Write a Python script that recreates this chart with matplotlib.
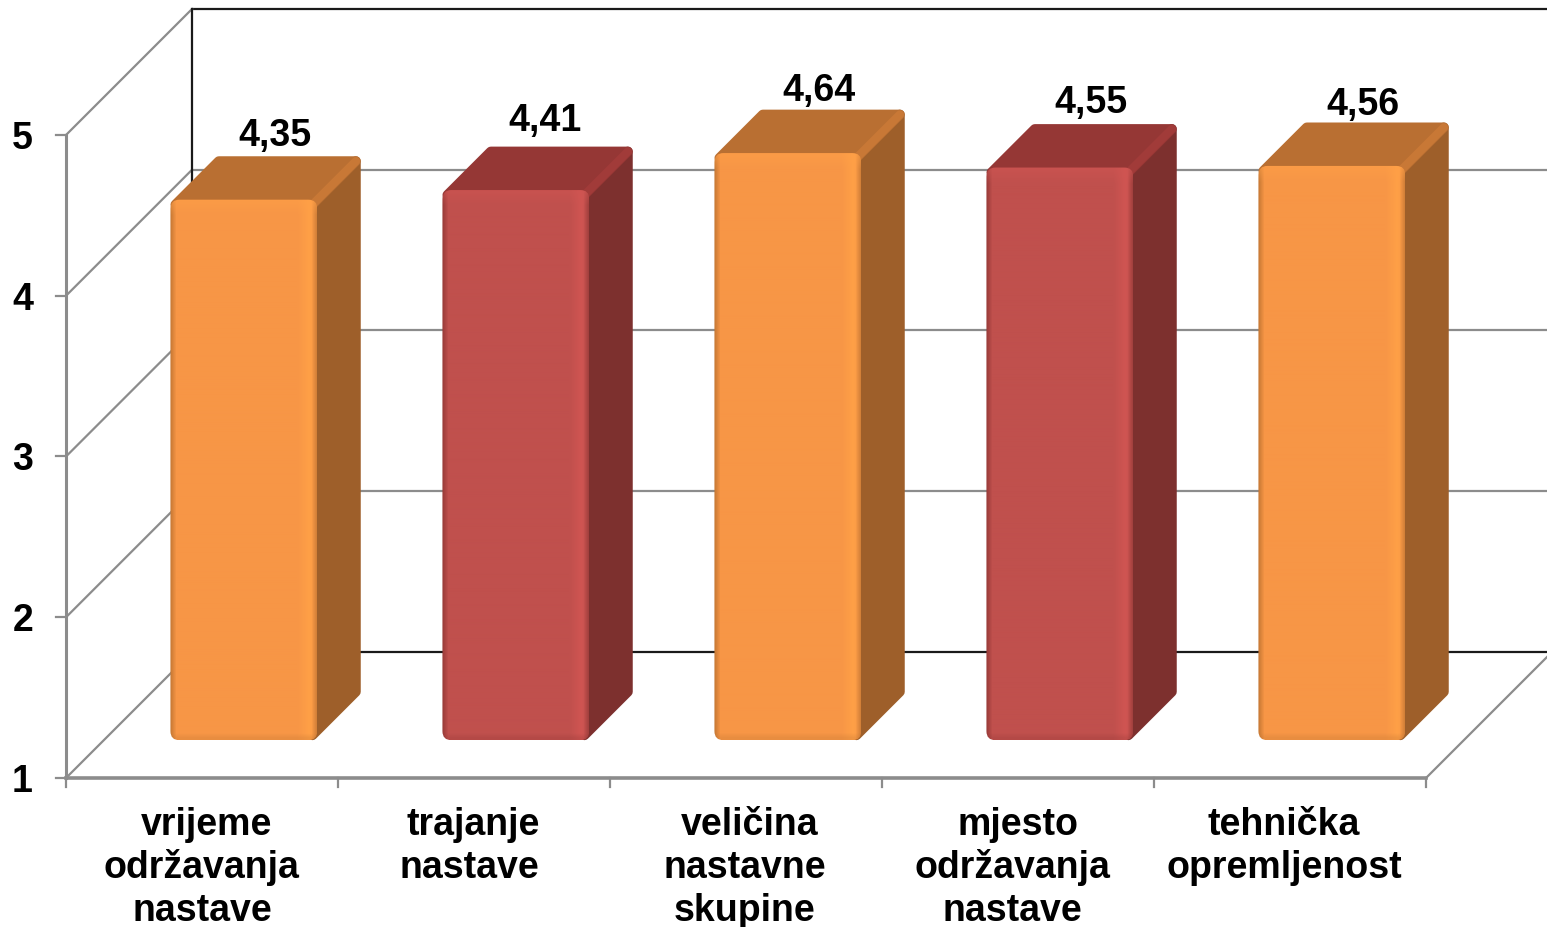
import numpy as np
import matplotlib
matplotlib.use('Agg')
import matplotlib.pyplot as plt
from matplotlib.colors import to_rgb, to_hex
from matplotlib.patches import FancyBboxPatch, Polygon

plt.rcParams['font.family'] = ['Liberation Sans', 'DejaVu Sans']

categories = [['vrijeme', 'održavanja', 'nastave'], ['trajanje', 'nastave'], ['veličina', 'nastavne', 'skupine'],
              ['mjesto', 'održavanja', 'nastave'], ['tehnička', 'opremljenost']]
values = [4.35, 4.41, 4.64, 4.55, 4.56]
value_labels = ['4,35', '4,41', '4,64', '4,55', '4,56']
y_ticks = [1, 2, 3, 4, 5]

# colours per bar: face, edge highlight, dark edge, top, side
ORANGE = ('#F79646', '#FFA047', '#B9702F', '#B96F32', '#9E5F2A')
RED = ('#C0504D', '#D05552', '#8E3533', '#953735', '#7D302E')
bar_colors = [ORANGE, RED, ORANGE, RED, ORANGE]

GRAY = '#8C8C8C'
DARK = '#1A1A1A'
FS = 27

# pixel size of one category / one value unit and of the full chart depth
PX_X = 272.0
PX_Y = 160.75
DEPTH_PX = 126.0

# small hand offsets in pixels, the original labels are not quite centred
label_dx = [[5, -1, 0], [-1, -5], [4, -1, -1], [0, -6, -6], [-6, -6]]
value_dx = [-8, -10, -8, -8, -8]
value_dy = [12, 18, 11, 13, 9]

fig = plt.figure(figsize=(15.47, 9.27), dpi=100)
ax = fig.add_axes([0, 0, 1, 1])
ax.axis('off')


def proj(x, v, d):
    # oblique projection, d = 0 front of the chart, d = 1 back wall
    return x + d * DEPTH_PX / PX_X, v + d * DEPTH_PX / PX_Y


n = len(categories)
xr = n + 1  # back wall runs off the right side of the picture

# back wall
for t in y_ticks:
    col = DARK if t in (1, 5) else GRAY
    ax.plot(*zip(proj(0, t, 1), proj(xr, t, 1)), color=col, lw=1.6, zorder=1, solid_capstyle='butt')
    ax.plot(*zip(proj(0, t, 0), proj(0, t, 1)), color=GRAY, lw=1.6, zorder=1)
ax.plot(*zip(proj(0, 1, 1), proj(0, 5, 1)), color=DARK, lw=1.6, zorder=1)

# front axes
ax.plot([0, 0], [1, 5], color=GRAY, lw=2.2, zorder=1)
ax.plot([0, n], [1, 1], color=GRAY, lw=2.6, zorder=1)
for t in y_ticks:
    ax.plot([-10 / PX_X, 0], [t, t], color=GRAY, lw=1.6, zorder=1)
    ax.text(-33 / PX_X, t - 14 / PX_Y, str(t), ha='right', va='baseline', fontsize=FS, fontweight='bold', zorder=5)
for i in range(n + 1):
    ax.plot([i, i], [1, 1 - 9 / PX_Y], color=GRAY, lw=1.6, zorder=1)
ax.plot(*zip(proj(n, 1, 0), proj(n, 1, 1)), color=GRAY, lw=1.6, zorder=1)

# bars
D0 = 0.30
D1 = 0.645
BW = 0.54
TOP_PAD = 2 / PX_Y
for i, (val, cols) in enumerate(zip(values, bar_colors)):
    face, light, dark, top, side = cols
    left = i + 0.515 - BW / 2
    right = left + BW
    h_val = val + TOP_PAD
    x0, y0 = proj(left, 1, D0)
    x1, y1 = proj(right, h_val, D0)
    ins_x = 4.9 / PX_X
    ins_y = 4.9 / PX_Y

    # side and top, round joins give the soft corners
    side_pts = [(x1 - ins_x, y0 + ins_y), proj(right - ins_x, 1 + ins_y, D1),
                proj(right - ins_x, h_val - ins_y, D1), (x1 - ins_x, y1 - ins_y)]
    ax.add_patch(Polygon(side_pts, closed=True, fc=side, ec=side, lw=7, joinstyle='round', zorder=2))
    top_pts = [(x0 + ins_x, y1 - ins_y), (x1 - ins_x, y1 - ins_y),
               proj(right - ins_x, h_val - ins_y, D1), proj(left + ins_x, h_val - ins_y, D1)]
    ax.add_patch(Polygon(top_pts, closed=True, fc=top, ec=top, lw=7, joinstyle='round', zorder=2))
    # lighter ridge between top and side
    ax.plot(*zip((x1 - ins_x, y1 - ins_y), proj(right - ins_x, h_val - ins_y, D1)),
            color=to_hex(np.array(to_rgb(top)) * 1.08),
            lw=6, solid_capstyle='round', zorder=2.5)

    # front face with soft shaded edges
    h = 120
    w = 147
    rgb_face = np.array(to_rgb(face))
    rgb_light = np.array(to_rgb(light))
    rgb_dark = np.array(to_rgb(dark))
    px = np.arange(w)[None, :, None]
    py = np.arange(h)[:, None, None]
    img = np.tile(rgb_face, (h, w, 1))
    m = np.clip(1 - (w - 8 - px) / 12, 0, 1) * np.clip((w - px) / 8, 0, 1)
    img = img * (1 - m) + rgb_light * m
    m = np.clip(1 - px / 6, 0, 1) * 0.8
    img = img * (1 - m) + rgb_dark * m
    m = np.clip(1 - (w - px) / 6, 0, 1) * 0.7
    img = img * (1 - m) + rgb_dark * m
    m = np.clip(1 - py / 3, 0, 1) * 0.5
    img = img * (1 - m) + rgb_light * m
    m = np.clip(1 - (h - py) / 1.5, 0, 1) * 0.7
    img = img * (1 - m) + rgb_dark * m
    im = ax.imshow(img, extent=(x0, x1, y0, y1), aspect='auto', origin='upper', zorder=3,
                   interpolation='bilinear')
    clip = FancyBboxPatch((x0, y0), x1 - x0, y1 - y0, boxstyle='round,pad=0,rounding_size=%f' % (9 / PX_X),
                          mutation_aspect=PX_X / PX_Y, fc='none', ec='none', transform=ax.transData)
    ax.add_patch(clip)
    im.set_clip_path(clip)

    # value label above the top
    lx, ly = proj(i + 0.5, val, D1)
    ax.text(lx + value_dx[i] / PX_X, ly + value_dy[i] / PX_Y, value_labels[i], ha='center', va='baseline',
            fontsize=FS, fontweight='bold', zorder=5)

# category labels, one text per line so each can sit where the original has it
for i, lines in enumerate(categories):
    for j, line in enumerate(lines):
        ax.text(i + 0.5 + label_dx[i][j] / PX_X, 1 - (57 + 43 * j) / PX_Y, line, ha='center', va='baseline',
                fontsize=FS, fontweight='bold', zorder=5)

ax.set_xlim(-66 / PX_X, (1547 - 66) / PX_X)
ax.set_ylim(1 - (927 - 778) / PX_Y, 1 + 778 / PX_Y)
fig.savefig('out.png', dpi=100)
